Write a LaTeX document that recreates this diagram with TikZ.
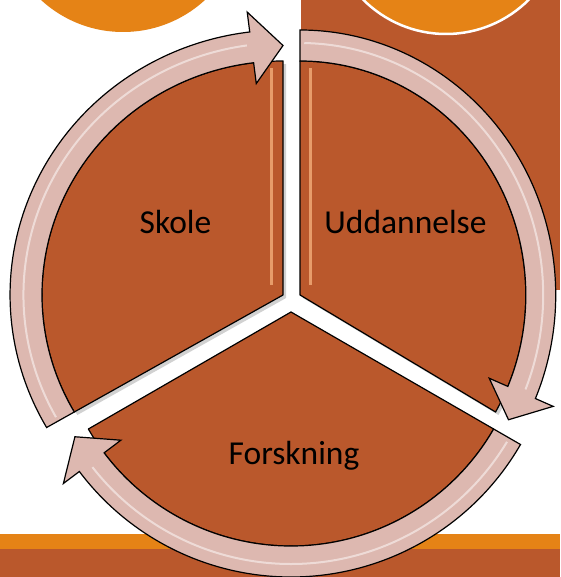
\documentclass[tikz,border=0pt]{standalone}
\usepackage{fontspec}
\setmainfont{Carlito}
\usetikzlibrary{positioning}
\definecolor{rustColor}{RGB}{186,88,44}
\definecolor{orangeColor}{RGB}{229,131,22}
\definecolor{arrowColor}{RGB}{221,184,176}
\definecolor{stripeColor}{RGB}{240,168,118}
\tikzstyle{segmentStyle} = [fill=rustColor, draw=black, line width=1.2pt, line join=round]
\tikzstyle{segmentShadow} = [fill=black, opacity=0.18]
\tikzstyle{arrowStyle} = [fill=arrowColor, draw=black, line width=1.2pt, line join=miter]
\tikzstyle{glossLine} = [white, line width=2pt, opacity=0.5]
\tikzstyle{stripeLine} = [stripeColor, line width=3pt, opacity=0.85]
\tikzstyle{segmentText} = [font=\fontsize{33.5}{40}\selectfont, anchor=base, inner sep=0pt]
\newcommand{\rIn}{234}
\newcommand{\rOut}{265}
\newcommand{\rGloss}{252}
\newcommand{\headIn}{213}
\newcommand{\headOut}{285}
\newcommand{\headLen}{7}
% #1 = corner, #2 = xscale, #3 = low angle, #4 = high angle
\newcommand{\segment}[4]{
  \begin{scope}[shift={#1}, xscale=#2]
    \fill [segmentShadow] (3,-3) -- ++(#3:\rIn) arc [start angle=#3, end angle=#4, radius=\rIn] -- cycle;
    \filldraw [segmentStyle] (0,0) -- (#3:\rIn) arc [start angle=#3, end angle=#4, radius=\rIn] -- cycle;
  \end{scope}
}
\newcommand{\cycleArrow}[4]{
  \pgfmathsetmacro{\headBase}{#3 + \headLen}
  \pgfmathsetmacro{\headTip}{(\rIn + \rOut) / 2}
  \pgfmathsetmacro{\glossStart}{#4 - 1}
  \pgfmathsetmacro{\glossEnd}{#3 + \headLen + 1}
  \begin{scope}[shift={#1}, xscale=#2]
    \filldraw [arrowStyle] (#4:\rIn) -- (#4:\rOut) arc [start angle=#4, end angle=\headBase, radius=\rOut]
      -- (\headBase:\headOut) -- (#3:\headTip) -- (\headBase:\headIn) -- (\headBase:\rIn)
      arc [start angle=\headBase, end angle=#4, radius=\rIn] -- cycle;
    \draw [glossLine] (\glossStart:\rGloss) arc [start angle=\glossStart, end angle=\glossEnd, radius=\rGloss];
  \end{scope}
}

\begin{document}
\begin{tikzpicture}[x=1pt, y=1pt]
  \useasboundingbox (0,0) rectangle (560,-577);
  \clip (0,0) rectangle (560,-577);
  \fill [white] (0,0) rectangle (560,-577);
  \fill [rustColor] (300.7,0) rectangle (560,-290);
  \fill [orangeColor] (123,89) circle (121);
  \filldraw [fill=orangeColor, draw=white, line width=2.5pt] (446,83) circle (117);
  \fill [orangeColor] (0,-534) rectangle (560,-549);
  \fill [rustColor] (0,-549) rectangle (560,-577);

  \segment{(283,-295)}{1.03}{90}{210}
  \segment{(300,-295)}{0.965}{-30}{90}
  \segment{(291,-312)}{1}{-150}{-30}
  \draw [stripeLine] (271,-285) -- (271,-68);
  \draw [stripeLine] (310,-285) -- (310,-68);
  \cycleArrow{(283,-295)}{1.03}{90}{210}
  \cycleArrow{(300,-295)}{0.965}{-30}{90}
  \cycleArrow{(291,-312)}{1}{-150}{-30}

  \node [segmentText] (skole) at (175.5,-233.5) {Skole};
  \node [segmentText] (uddannelse) at (405.5,-233) {Uddannelse};
  \node [segmentText] (forskning) at (294,-464) {Forskning};
\end{tikzpicture}
\end{document}
